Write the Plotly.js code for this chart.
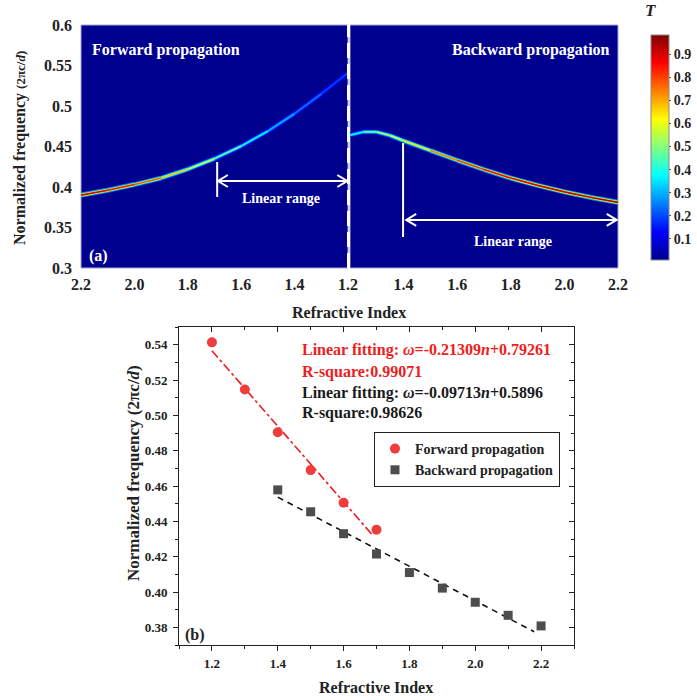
<!DOCTYPE html>
<html><head><meta charset="utf-8">
<script src="https://cdn.plot.ly/plotly-3.0.1.min.js"></script>
<style>html,body{margin:0;padding:0;background:#fff;}</style>
</head><body>
<div id="chart" style="width:697px;height:700px;"></div>
<script>
// ---------- (a) transmission ridge ----------
const fwdN = [2.2, 2.1, 2.0, 1.9, 1.8, 1.7, 1.6, 1.5, 1.4, 1.3, 1.2];
const fwdW = [0.390, 0.396, 0.403, 0.411, 0.422, 0.435, 0.4505, 0.469, 0.4905, 0.515, 0.541];
const fwdT = [0.92, 0.88, 0.82, 0.72, 0.62, 0.52, 0.42, 0.34, 0.28, 0.22, 0.18];

const bwdN = [1.2, 1.25, 1.3, 1.35, 1.4, 1.5, 1.6, 1.7, 1.8, 1.9, 2.0, 2.1, 2.2];
const bwdW = [0.464, 0.468, 0.468, 0.4635, 0.457, 0.445, 0.433, 0.4215, 0.411, 0.402, 0.394, 0.387, 0.381];
const bwdT = [0.30, 0.45, 0.52, 0.56, 0.60, 0.70, 0.78, 0.84, 0.88, 0.90, 0.92, 0.93, 0.94];

// ---------- (b) extracted points ----------
const fPtN = [1.2, 1.3, 1.4, 1.5, 1.6, 1.7];
const fPtW = [0.5413, 0.5146, 0.4904, 0.469, 0.4505, 0.4352];
const bPtN = [1.4, 1.5, 1.6, 1.7, 1.8, 1.9, 2.0, 2.1, 2.2];
const bPtW = [0.4578, 0.4454, 0.433, 0.4215, 0.411, 0.4022, 0.3942, 0.3868, 0.3808];
// fitted lines (end points)
const fFitN = [1.2, 1.688];
const fFitW = [0.5366, 0.4322];
const bFitN = [1.4, 2.179];
const bFitW = [0.4537, 0.3775];

const cbTicks = [0.1, 0.2, 0.3, 0.4, 0.5, 0.6, 0.7, 0.8, 0.9];
const topXLeftTicks = [2.2, 2.0, 1.8, 1.6, 1.4, 1.2];
const topXRightTicks = [1.4, 1.6, 1.8, 2.0, 2.2];

// ---------- styling ----------
const FONT = 'Liberation Serif, Times New Roman, serif';
const CMIN = 0.008, CMAX = 0.984;
const JET = [[0,'rgb(0,0,143)'],[0.125,'rgb(0,0,255)'],[0.375,'rgb(0,255,255)'],
             [0.625,'rgb(255,255,0)'],[0.875,'rgb(255,0,0)'],[1,'rgb(128,0,0)']];
const JETRGB = JET.map(s => [s[0], s[1].match(/\d+/g).map(Number)]);
function jet(v){
  let t = (v - CMIN) / (CMAX - CMIN);
  t = Math.max(0, Math.min(1, t));
  for (let i = 0; i < JETRGB.length - 1; i++){
    const a = JETRGB[i], b = JETRGB[i+1];
    if (t <= b[0]){
      const f = (t - a[0]) / (b[0] - a[0]);
      const c = a[1].map((x, k) => Math.round(x + f * (b[1][k] - x)));
      return 'rgb(' + c.join(',') + ')';
    }
  }
  return JET[JET.length-1][1];
}
const NAVY = jet(0);
const px = v => v / 697, py = v => 1 - v / 700;

const traces = [];
// colorbar carrier
traces.push({
  x: fwdN, y: fwdW, xaxis: 'x', yaxis: 'y', mode: 'markers', type: 'scatter',
  showlegend: false, hoverinfo: 'skip',
  marker: {size: 1, color: fwdT, colorscale: JET, cmin: CMIN, cmax: CMAX, showscale: true,
    colorbar: {x: px(641), xanchor: 'left', y: py(25), yanchor: 'top', len: 245/700,
      thickness: 18, outlinewidth: 1, outlinecolor: '#8a8a8a', tickvals: cbTicks,
      ticks: 'outside', ticklen: 2, tickcolor: '#444',
      tickfont: {family: FONT, size: 14, weight: 'bold', color: '#222'}}}
});
function ridge(N, W, T, xa){
  const layers = [[5, 0.3], [3.2, 0.62], [1.6, 1.0]];
  layers.forEach(([w, k]) => {
    for (let i = 0; i < N.length - 1; i++){
      const v = (T[i] + T[i+1]) / 2 * k;
      traces.push({x: [N[i], N[i+1]], y: [W[i], W[i+1]], xaxis: xa, yaxis: 'y',
        type: 'scatter', mode: 'lines', showlegend: false, hoverinfo: 'skip',
        line: {color: jet(v), width: w}});
    }
  });
}
ridge(fwdN, fwdW, fwdT, 'x');
ridge(bwdN, bwdW, bwdT, 'x2');

// (b)
traces.push({x: fFitN, y: fFitW, xaxis: 'x3', yaxis: 'y3', type: 'scatter', mode: 'lines',
  showlegend: false, line: {color: '#ee1c1c', width: 1.6, dash: 'dashdot'}});
traces.push({x: bFitN, y: bFitW, xaxis: 'x3', yaxis: 'y3', type: 'scatter', mode: 'lines',
  showlegend: false, line: {color: '#111', width: 1.6, dash: '6px,5px'}});
traces.push({x: fPtN, y: fPtW, xaxis: 'x3', yaxis: 'y3', type: 'scatter', mode: 'markers',
  name: 'Forward propagation', marker: {symbol: 'circle', size: 10, color: '#ef3d3d'}});
traces.push({x: bPtN, y: bPtW, xaxis: 'x3', yaxis: 'y3', type: 'scatter', mode: 'markers',
  name: 'Backward propagation', marker: {symbol: 'square', size: 9, color: '#4d4d4d'}});
// carriers for mirrored axes
traces.push({x: [null], y: [null], xaxis: 'x4', yaxis: 'y3', type: 'scatter', showlegend: false});
traces.push({x: [null], y: [null], xaxis: 'x3', yaxis: 'y4', type: 'scatter', showlegend: false});

const tickB = {family: FONT, size: 16, weight: 'bold', color: '#222'};
const tickS = {family: FONT, size: 13, weight: 'bold', color: '#222'};
const botX = {range: [1.1, 2.3], tick0: 1.2, dtick: 0.2, tickformat: '.1f',
  showgrid: false, zeroline: false, showline: true, linecolor: '#222', linewidth: 1,
  ticklen: 5, tickcolor: '#222'};
const botXMinor = {tick0: 1.1, dtick: 0.1, ticklen: 3, tickcolor: '#222'};
const botY = {range: [0.37, 0.55], tick0: 0.38, dtick: 0.02, tickformat: '.2f',
  showgrid: false, zeroline: false, showline: true, linecolor: '#222', linewidth: 1,
  ticklen: 5, tickcolor: '#222'};
const botYMinor = {tick0: 0.37, dtick: 0.01, ticklen: 3, tickcolor: '#222'};

const layout = {
  width: 697, height: 700, margin: {l: 0, r: 0, t: 0, b: 0, autoexpand: false},
  paper_bgcolor: '#fff', plot_bgcolor: 'rgba(0,0,0,0)',
  font: {family: FONT, color: '#222'},
  xaxis: {domain: [px(81), px(348)], range: [2.2, 1.2], anchor: 'y', tickvals: topXLeftTicks,
    tickformat: '.1f', showgrid: false, zeroline: false, showline: false, ticks: '',
    ticklabelstandoff: 5, tickfont: tickB},
  xaxis2: {domain: [px(350), px(618)], range: [1.2, 2.2], anchor: 'y', tickvals: topXRightTicks,
    tickformat: '.1f', showgrid: false, zeroline: false, showline: false, ticks: '',
    ticklabelstandoff: 5, tickfont: tickB},
  yaxis: {domain: [py(268), py(25)], range: [0.3, 0.6], anchor: 'x', tick0: 0.3, dtick: 0.05,
    showgrid: false, zeroline: false, showline: false, ticks: '', ticklabelstandoff: 8, tickfont: tickB},
  xaxis3: Object.assign({domain: [px(179), px(574)], anchor: 'y3', ticks: 'outside',
    minor: Object.assign({ticks: 'outside'}, botXMinor), tickfont: tickS, ticklabelstandoff: 1}, botX),
  yaxis3: Object.assign({domain: [py(645), py(327)], anchor: 'x3', ticks: 'outside',
    minor: Object.assign({ticks: 'outside'}, botYMinor), tickfont: tickS, ticklabelstandoff: 3}, botY),
  xaxis4: Object.assign({overlaying: 'x3', anchor: 'y3', side: 'top', ticks: 'inside',
    showticklabels: false, minor: Object.assign({ticks: 'inside'}, botXMinor)}, botX),
  yaxis4: Object.assign({overlaying: 'y3', anchor: 'x3', side: 'right', ticks: 'inside',
    showticklabels: false, minor: Object.assign({ticks: 'inside'}, botYMinor)}, botY),
  legend: {x: px(374), y: py(432), xanchor: 'left', yanchor: 'top', bgcolor: '#fff',
    bordercolor: '#222', borderwidth: 1, tracegroupgap: 0,
    font: {family: FONT, size: 14, weight: 'bold', color: '#222'}},
  shapes: [
    {type: 'rect', xref: 'x domain', yref: 'y domain', x0: 0, x1: 1, y0: 0, y1: 1,
     fillcolor: NAVY, line: {color: '#a8a8d0', width: 1}, layer: 'below'},
    {type: 'rect', xref: 'x2 domain', yref: 'y domain', x0: 0, x1: 1, y0: 0, y1: 1,
     fillcolor: NAVY, line: {color: '#a8a8d0', width: 1}, layer: 'below'},
    {type: 'line', xref: 'paper', yref: 'y domain', x0: px(348.5), x1: px(348.5), y0: 0, y1: 1,
     line: {color: '#fff', width: 3, dash: '15px,6px'}},
    // linear range markers (a)
    {type: 'line', xref: 'x', yref: 'y', x0: 1.69, x1: 1.69, y0: 0.3877, y1: 0.4309, line: {color: '#fff', width: 2}},
    {type: 'line', xref: 'x', yref: 'y', x0: 1.687, x1: 1.203, y0: 0.4074, y1: 0.4074, line: {color: '#fff', width: 2}},
    {type: 'path', xref: 'x', yref: 'y', path: 'M1.65,0.4148 L1.687,0.4074 L1.65,0.4000', line: {color: '#fff', width: 2}},
    {type: 'path', xref: 'x', yref: 'y', path: 'M1.24,0.4148 L1.203,0.4074 L1.24,0.4000', line: {color: '#fff', width: 2}},
    {type: 'line', xref: 'x2', yref: 'y', x0: 1.398, x1: 1.398, y0: 0.3383, y1: 0.4543, line: {color: '#fff', width: 2}},
    {type: 'line', xref: 'x2', yref: 'y', x0: 1.41, x1: 2.195, y0: 0.3593, y1: 0.3593, line: {color: '#fff', width: 2}},
    {type: 'path', xref: 'x2', yref: 'y', path: 'M1.447,0.3667 L1.41,0.3593 L1.447,0.3519', line: {color: '#fff', width: 2}},
    {type: 'path', xref: 'x2', yref: 'y', path: 'M2.158,0.3667 L2.195,0.3593 L2.158,0.3519', line: {color: '#fff', width: 2}}
  ],
  annotations: [
    {text: 'Forward propagation', xref: 'paper', yref: 'paper', x: px(90), y: py(50), xanchor: 'left', yanchor: 'middle',
     showarrow: false, font: {family: FONT, size: 16, weight: 'bold', color: '#fff'}},
    {text: 'Backward propagation', xref: 'paper', yref: 'paper', x: px(612), y: py(50), xanchor: 'right', yanchor: 'middle',
     showarrow: false, font: {family: FONT, size: 16, weight: 'bold', color: '#fff'}},
    {text: '(a)', xref: 'paper', yref: 'paper', x: px(87), y: py(256), xanchor: 'left', yanchor: 'middle',
     showarrow: false, font: {family: FONT, size: 16, weight: 'bold', color: '#fff'}},
    {text: 'Linear range', xref: 'paper', yref: 'paper', x: px(281), y: py(198), xanchor: 'center', yanchor: 'middle',
     showarrow: false, font: {family: FONT, size: 14, weight: 'bold', color: '#fff'}},
    {text: 'Linear range', xref: 'paper', yref: 'paper', x: px(513), y: py(242), xanchor: 'center', yanchor: 'middle',
     showarrow: false, font: {family: FONT, size: 14, weight: 'bold', color: '#fff'}},
    {text: '<i>T</i>', xref: 'paper', yref: 'paper', x: px(650), y: py(11), xanchor: 'center', yanchor: 'middle',
     showarrow: false, font: {family: FONT, size: 17, weight: 'bold', color: '#222'}},
    {text: 'Refractive Index', xref: 'paper', yref: 'paper', x: px(349), y: py(312), xanchor: 'center', yanchor: 'middle',
     showarrow: false, font: {family: FONT, size: 16, weight: 'bold', color: '#222'}},
    {text: 'Normalized frequency <span style="font-size:13px">(2πc/<i>d</i>)</span>', xref: 'paper', yref: 'paper',
     x: px(20), y: py(148), xanchor: 'center', yanchor: 'middle', textangle: -90,
     showarrow: false, font: {family: FONT, size: 16, weight: 'bold', color: '#222'}},
    // (b)
    {text: 'Linear fitting: <i>ω</i>=-0.21309<i>n</i>+0.79261', xref: 'paper', yref: 'paper', x: px(300), y: py(350),
     xanchor: 'left', yanchor: 'middle', showarrow: false, font: {family: FONT, size: 16, weight: 'bold', color: '#f01c1c'}},
    {text: 'R-square:0.99071', xref: 'paper', yref: 'paper', x: px(300), y: py(372),
     xanchor: 'left', yanchor: 'middle', showarrow: false, font: {family: FONT, size: 16, weight: 'bold', color: '#f01c1c'}},
    {text: 'Linear fitting: <i>ω</i>=-0.09713<i>n</i>+0.5896', xref: 'paper', yref: 'paper', x: px(300), y: py(393),
     xanchor: 'left', yanchor: 'middle', showarrow: false, font: {family: FONT, size: 16, weight: 'bold', color: '#1a1a1a'}},
    {text: 'R-square:0.98626', xref: 'paper', yref: 'paper', x: px(300), y: py(413),
     xanchor: 'left', yanchor: 'middle', showarrow: false, font: {family: FONT, size: 16, weight: 'bold', color: '#1a1a1a'}},
    {text: '(b)', xref: 'paper', yref: 'paper', x: px(183), y: py(635), xanchor: 'left', yanchor: 'middle',
     showarrow: false, font: {family: FONT, size: 16, weight: 'bold', color: '#222'}},
    {text: 'Refractive Index', xref: 'paper', yref: 'paper', x: px(376), y: py(687), xanchor: 'center', yanchor: 'middle',
     showarrow: false, font: {family: FONT, size: 16, weight: 'bold', color: '#222'}},
    {text: 'Normalized frequency (2πc/<i>d</i>)', xref: 'paper', yref: 'paper',
     x: px(133), y: py(473), xanchor: 'center', yanchor: 'middle', textangle: -90,
     showarrow: false, font: {family: FONT, size: 17, weight: 'bold', color: '#222'}}
  ]
};
Plotly.newPlot('chart', traces, layout, {displayModeBar: false, staticPlot: true});
</script>
</body></html>
